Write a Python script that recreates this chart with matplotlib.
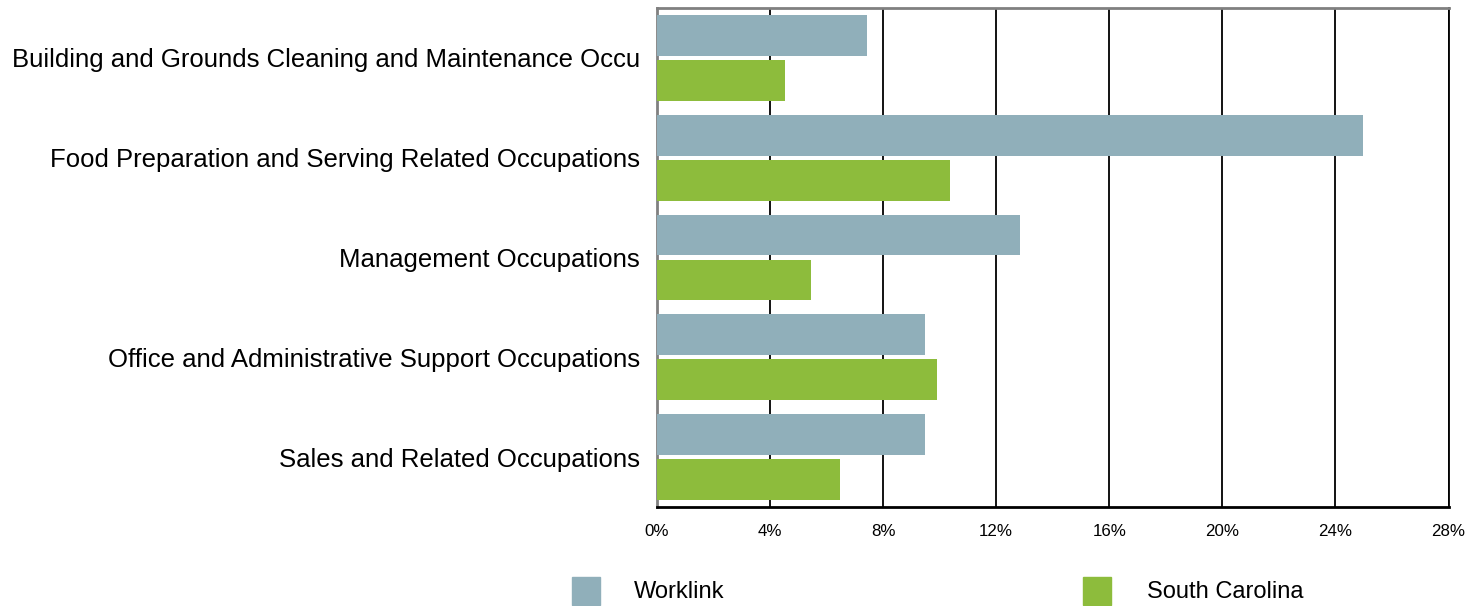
import matplotlib
matplotlib.use("Agg")
import matplotlib.pyplot as plt
from matplotlib.patches import Rectangle
import numpy as np

plt.rcParams['font.family'] = ['Liberation Sans', 'DejaVu Sans']

categories = [
    "Building and Grounds Cleaning and Maintenance Occu",
    "Food Preparation and Serving Related Occupations",
    "Management Occupations",
    "Office and Administrative Support Occupations",
    "Sales and Related Occupations",
]
series_names = ["Worklink", "South Carolina"]
worklink = [7.42, 24.98, 12.83, 9.47, 9.47]
south_carolina = [4.52, 10.35, 5.44, 9.89, 6.47]
x_ticks = [0, 4, 8, 12, 16, 20, 24, 28]
x_tick_labels = ["0%", "4%", "8%", "12%", "16%", "20%", "24%", "28%"]
colors = ["#90AFBA", "#8DBC3C"]

W, H = 1481, 606
fig = plt.figure(figsize=(W / 100, H / 100), dpi=100)
left, right, top, bottom = 657, 1448.5, 8, 507
ax = fig.add_axes([left / W, 1 - bottom / H, (right - left) / W, (bottom - top) / H])

y = np.arange(len(categories))
h = 0.408
off = 0.2255
ax.barh(y - off, worklink, height=h, color=colors[0], zorder=3)
ax.barh(y + off, south_carolina, height=h, color=colors[1], zorder=3)

ax.set_xlim(0, 28)
ax.set_ylim(len(categories) - 0.5, -0.5)
ax.set_xticks(x_ticks)
ax.set_xticklabels(x_tick_labels, fontsize=12.2)
ax.set_yticks(y)
ax.set_yticklabels(categories, fontsize=18.5)
ax.tick_params(axis='both', length=0)
ax.tick_params(axis='y', pad=12.2)
ax.tick_params(axis='x', pad=12)

ax.grid(axis='x', color='black', linewidth=1.3, zorder=1)
ax.set_axisbelow(True)
for s in ['left', 'top']:
    ax.spines[s].set_color('#808080')
    ax.spines[s].set_linewidth(2)
ax.spines['bottom'].set_color('black')
ax.spines['bottom'].set_linewidth(2)
ax.spines['right'].set_color('black')
ax.spines['right'].set_linewidth(1.3)

# legend
leg_items = [(572, 634), (1083, 1147)]
for (sx, tx), name, c in zip(leg_items, series_names, colors):
    fig.patches.append(Rectangle((sx / W, 1 - 605 / H), 28 / W, 28 / H,
                                 transform=fig.transFigure, color=c, figure=fig))
    fig.text(tx / W, 1 - 592 / H, name, fontsize=17, va='center', ha='left')

fig.savefig("out.png", dpi=100)
